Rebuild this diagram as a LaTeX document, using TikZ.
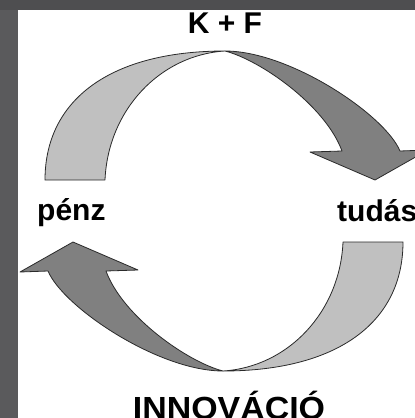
\documentclass[tikz,border=0pt]{standalone}
\usepackage{fontspec}
\setmainfont{Liberation Sans}
\definecolor{bgdark}{HTML}{4E4E50}
\definecolor{bgleft}{HTML}{5A5A5C}
\definecolor{lightfill}{HTML}{C0C0C0}
\definecolor{darkfill}{HTML}{808080}
\definecolor{edge}{HTML}{2A2A2A}
\begin{document}
\begin{tikzpicture}[x=1pt,y=-1pt,
  band/.style={draw=edge,line width=0.8pt,line join=round},
  lbl/.style={inner sep=0pt,font=\fontsize{30}{36}\selectfont\bfseries,text=black}]
\useasboundingbox (0,0) rectangle (415,418);
\clip (0,0) rectangle (415,418);
\fill[bgdark] (0,0) rectangle (415,418);
\fill[bgleft] (0,10) rectangle (18,418);
\fill[white] (18,10) rectangle (415,418);
% top arrow and its 180-degree copy
\foreach \r in {0,180}{
\begin{scope}[rotate around={\r:(224,211)}]
  \filldraw[band,fill=lightfill] (45,180) .. controls (45,100) and (110,51) .. (225,51)
     .. controls (160,55) and (108,110) .. (105,180) -- cycle;
  \filldraw[band,fill=darkfill] (225,51) .. controls (290,51) and (385,115) .. (400,151)
     -- (428,150) -- (375,180) -- (310,152) -- (342,151)
     .. controls (325,105) and (260,60) .. (225,51) -- cycle;
\end{scope}}
\node[lbl,anchor=base] (kf) at (225,33) {K + F};
\node[lbl,anchor=base west] (penz) at (37,220) {pénz};
\node[lbl,anchor=base west] (tudas) at (337,221) {tudás};
\node[lbl,anchor=base,xscale=1.06,font=\fontsize{32}{38}\selectfont\bfseries] (inno) at (229,419) {INNOVÁCIÓ};
\end{tikzpicture}
\end{document}
